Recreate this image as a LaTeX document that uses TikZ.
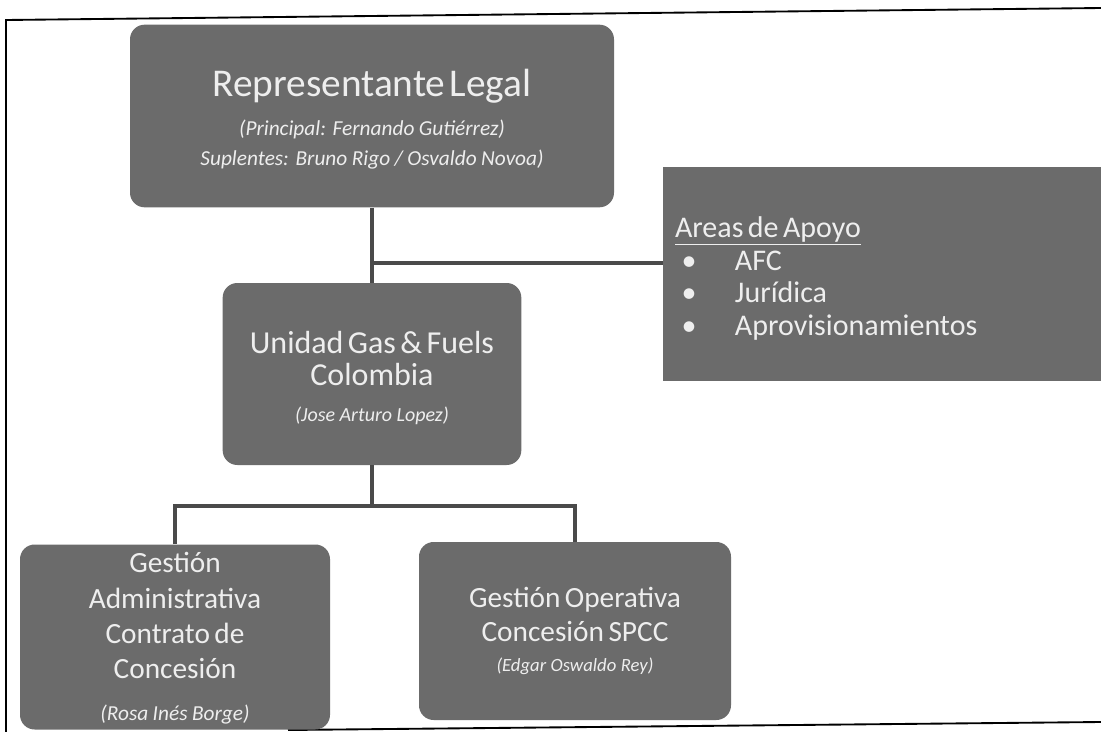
\documentclass[tikz,border=0pt]{standalone}
\usepackage{fontspec}
\setmainfont{Carlito}
\setlength{\parindent}{0pt}
\definecolor{boxgray}{HTML}{6B6B6B}
\definecolor{txtgray}{HTML}{EEEEEE}
\definecolor{linegray}{HTML}{4A4A4A}
\tikzset{
  box/.style={fill=boxgray, text=txtgray, rounded corners=11pt, inner sep=0pt, align=center},
  sqbox/.style={fill=boxgray, text=txtgray, inner ysep=0pt, inner xsep=9pt, align=left},
  conn/.style={draw=linegray, line width=2.6pt},
  framel/.style={draw=black, line width=1.4pt},
}
\newcommand{\fs}[2]{\fontsize{#1}{#2}\selectfont}
\begin{document}
\begin{tikzpicture}[x=0.75pt, y=-0.75pt]
\useasboundingbox (0,0) rectangle (1101,732);
\draw[framel] (6,732) -- (6,20) -- (1101,8);
\draw[framel] (288,730) -- (1101,722);

\node[box, text width=350pt, minimum width=363pt, minimum height=137pt] (rep) at (372,116)
  {\fs{29.5}{32}Representante Legal\par
   \fs{16}{29}\itshape (Principal: Fernando Gutiérrez)\par
   \fs{16}{22.5}\itshape Suplentes: Bruno Rigo / Osvaldo Novoa)\par\vspace{-4.5pt}};

\node[sqbox, text width=310.5pt, minimum height=161pt] (areas) at (882,274)
  {\fs{22.5}{24.4}\underline{Areas de Apoyo}\par
   \hspace*{5pt}\makebox[40pt][l]{\textbullet}AFC\par
   \hspace*{5pt}\makebox[40pt][l]{\textbullet}Jurídica\par
   \hspace*{5pt}\makebox[40pt][l]{\textbullet}Aprovisionamientos\par\vspace{-7pt}};

\node[box, text width=215pt, minimum width=224pt, minimum height=136.5pt] (uni) at (372,374)
  {\fs{24}{26}Unidad Gas \& Fuels\par
   \fs{24}{24}Colombia\par
   \fs{15}{27}\itshape (Jose Arturo Lopez)\par\vspace{-6pt}};

\node[box, text width=225pt, minimum width=232.5pt, minimum height=138.75pt] (adm) at (175,637)
  {\fs{22}{26.5}Gestión\par
   Administrativa\par
   Contrato de\par
   Concesión\par
   \fs{16}{31}\itshape (Rosa Inés Borge)\par\vspace{-2pt}};

\node[box, text width=225pt, minimum width=234pt, minimum height=133.5pt] (ope) at (575,631)
  {\fs{22}{25.5}Gestión Operativa\par
   Concesión SPCC\par
   \fs{14}{23}\itshape (Edgar Oswaldo Rey)\par};

\coordinate (j1) at (372,263);
\coordinate (j2) at (372,506);
\draw[conn] (rep.south) -- (uni.north);
\draw[conn] (j1) -- (j1 -| areas.west);
\draw[conn] (uni.south) -- (j2);
\draw[conn] (adm.north) |- (j2) -| (ope.north);
\end{tikzpicture}
\end{document}
